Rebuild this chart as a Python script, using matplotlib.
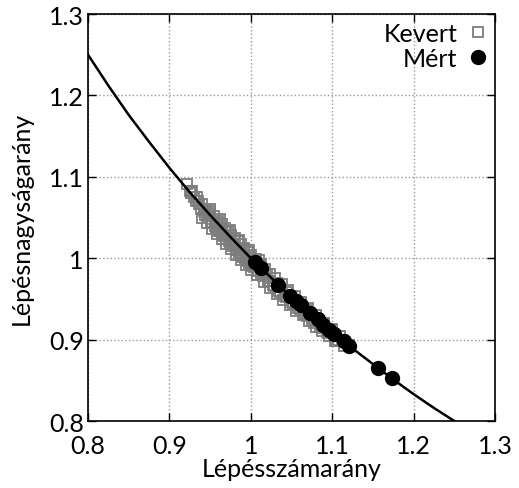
import matplotlib
matplotlib.use('Agg')
import matplotlib.pyplot as plt

# elméleti görbe (lépésszám * lépésnagyság = 1)
curve_x = [0.800, 0.825, 0.850, 0.875, 0.900, 0.925, 0.950, 0.975, 1.000, 1.025,
           1.050, 1.075, 1.100, 1.125, 1.150, 1.175, 1.200, 1.225, 1.250]
curve_y = [1.250, 1.212, 1.176, 1.143, 1.111, 1.081, 1.053, 1.026, 1.000, 0.976,
           0.952, 0.930, 0.909, 0.889, 0.870, 0.851, 0.833, 0.816, 0.800]

# Kevert adatok
kevert_x = [0.922, 0.925, 0.928, 0.930, 0.934, 0.936, 0.940, 0.942, 0.945, 0.948,
            0.950, 0.952, 0.955, 0.957, 0.960, 0.962, 0.964, 0.966, 0.968, 0.970,
            0.972, 0.974, 0.976, 0.978, 0.980, 0.982, 0.984, 0.986, 0.988, 0.990,
            0.992, 0.994, 0.996, 0.998, 1.000, 1.003, 1.006, 1.009, 1.012, 1.015,
            1.018, 1.021, 1.024, 1.027, 1.030, 1.034, 1.038, 1.042, 1.046, 1.050,
            1.054, 1.058, 1.062, 1.066, 1.070, 1.075, 1.080, 1.085, 1.090, 1.095,
            1.100, 1.105, 1.110, 1.115,
            0.935, 0.947, 0.958, 0.969, 0.979, 0.989, 0.999, 1.010, 1.020, 1.032,
            1.044, 1.056, 1.068, 1.082, 1.097, 1.112, 1.120,
            0.940, 0.946, 0.952, 0.958, 0.964, 0.970, 0.976, 0.982, 0.988, 0.994,
            1.000, 1.008, 1.016, 1.024, 1.032, 1.040, 1.048, 1.056, 1.064, 1.072,
            1.080, 1.088, 1.096, 1.104,
            0.950, 0.962, 0.974, 0.986, 0.998, 1.010,
            0.926, 0.933, 0.939, 0.944, 0.951, 0.956, 0.961, 0.967, 0.973, 0.977,
            0.983, 0.987, 0.993, 0.997, 1.004, 1.013, 1.022, 1.028, 1.036, 1.043,
            1.052, 1.060, 1.069, 1.078, 1.087, 1.093, 1.107]
kevert_y = [1.091, 1.083, 1.083, 1.075, 1.075, 1.066, 1.067, 1.058, 1.059, 1.052,
            1.058, 1.044, 1.052, 1.038, 1.046, 1.033, 1.042, 1.028, 1.037, 1.024,
            1.033, 1.019, 1.029, 1.015, 1.025, 1.010, 1.021, 1.006, 1.017, 1.002,
            1.012, 0.998, 1.008, 0.994, 1.004, 0.990, 0.999, 0.984, 0.993, 0.978,
            0.987, 0.972, 0.981, 0.967, 0.976, 0.960, 0.968, 0.953, 0.961, 0.946,
            0.953, 0.939, 0.946, 0.932, 0.939, 0.925, 0.930, 0.916, 0.921, 0.908,
            0.913, 0.900, 0.904, 0.892,
            1.070, 1.056, 1.043, 1.032, 1.021, 1.011, 1.001, 0.990, 0.980, 0.969,
            0.958, 0.947, 0.936, 0.924, 0.912, 0.899, 0.893,
            1.050, 1.043, 1.036, 1.030, 1.023, 1.017, 1.011, 1.004, 0.998, 0.992,
            0.986, 0.979, 0.971, 0.964, 0.956, 0.949, 0.942, 0.935, 0.930, 0.923,
            0.916, 0.910, 0.904, 0.898,
            1.061, 1.048, 1.035, 1.022, 1.010, 0.998,
            1.080, 1.070, 1.060, 1.053, 1.045, 1.039, 1.034, 1.027, 1.021, 1.017,
            1.010, 1.006, 1.000, 0.996, 0.989, 0.980, 0.972, 0.966, 0.958, 0.952,
            0.944, 0.937, 0.929, 0.921, 0.914, 0.909, 0.898]

# Mért adatok
mert_x = [1.005, 1.012, 1.033, 1.048, 1.055, 1.062, 1.073, 1.083, 1.089, 1.096,
          1.102, 1.115, 1.121, 1.156, 1.173]
mert_y = [0.995, 0.988, 0.967, 0.954, 0.948, 0.943, 0.933, 0.925, 0.918, 0.912,
          0.907, 0.898, 0.892, 0.865, 0.853]

ticks = [0.8, 0.9, 1.0, 1.1, 1.2, 1.3]
tick_labels = ['0.8', '0.9', '1', '1.1', '1.2', '1.3']

plt.rcParams['font.family'] = ['Lato', 'DejaVu Sans']

fig = plt.figure(figsize=(5.19, 4.89), dpi=100)
ax = fig.add_axes([0.1696, 0.137, 0.7842, 0.8323])

ax.plot(kevert_x, kevert_y, 's', ms=7, mfc='none', mec='#7d7d7d', mew=1.3,
        label='Kevert', zorder=2)
ax.plot(curve_x, curve_y, '-', color='black', lw=1.8, zorder=3)
ax.plot(mert_x, mert_y, 'o', ms=10, color='black', label='Mért', zorder=4)

ax.set_xlim(0.8, 1.3)
ax.set_ylim(0.8, 1.3)
ax.set_xticks(ticks)
ax.set_xticklabels(tick_labels)
ax.set_yticks(ticks)
ax.set_yticklabels(tick_labels)
ax.grid(True, linestyle=':', color='#999999', linewidth=1.0)
ax.tick_params(direction='in', length=6, width=1, top=True, right=True,
               labelsize=18, pad=3)
ax.tick_params(axis='x', pad=9)
for s in ax.spines.values():
    s.set_linewidth(1.2)

ax.set_xlabel('Lépésszámarány', fontsize=18, labelpad=0)
ax.set_ylabel('Lépésnagyságarány', fontsize=18, labelpad=12)

ax.legend(loc='upper right', frameon=False, markerfirst=False, fontsize=18,
          handlelength=0.8, handletextpad=0.4, borderaxespad=0.1,
          labelspacing=0.1, borderpad=0.2)

fig.savefig('out.png', dpi=100)
